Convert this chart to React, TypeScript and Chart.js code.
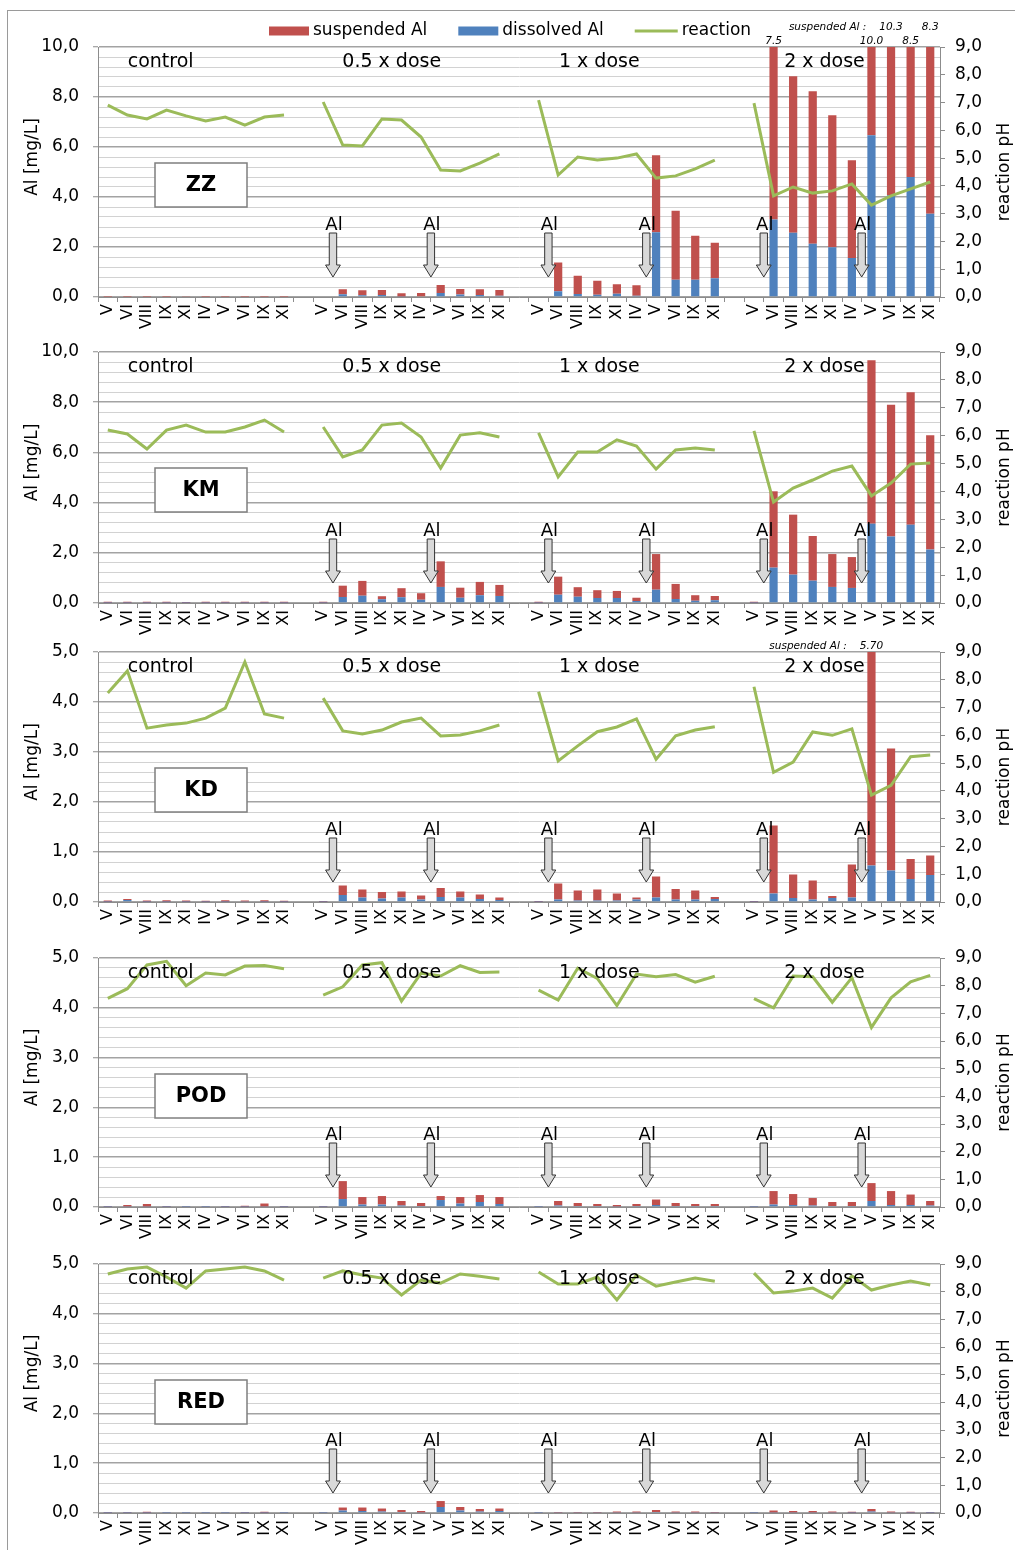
import React, { useEffect, useRef } from 'react';
import { Chart, registerables } from 'chart.js';

Chart.register(...registerables);

const FONT = "'DejaVu Sans', sans-serif";

const months = ['V', 'VI', 'VIII', 'IX', 'XI', 'IV', 'V', 'VI', 'IX', 'XI'];
const groupNames = ['control', '0.5 x dose', '1 x dose', '2 x dose'];

// ---------- ZZ ----------
const zzDissolved = [
  [0, 0, 0, 0, 0, 0, 0, 0, 0, 0],
  [0, 0.11, 0.07, 0.08, 0.02, 0.03, 0.16, 0.1, 0.08, 0.05],
  [0, 0.23, 0.12, 0.09, 0.13, 0.05, 2.59, 0.69, 0.69, 0.75],
  [0, 3.1, 2.57, 2.13, 1.99, 1.56, 6.47, 4.07, 4.8, 3.33],
];
const zzSuspended = [
  [0.01, 0.01, 0.01, 0.01, 0.02, 0.01, 0.01, 0.01, 0.01, 0.01],
  [0, 0.2, 0.2, 0.2, 0.13, 0.13, 0.32, 0.22, 0.23, 0.23],
  [0, 1.15, 0.73, 0.56, 0.38, 0.42, 3.08, 2.76, 1.76, 1.42],
  [0, 7.5, 6.26, 6.1, 5.28, 3.91, 10.0, 10.3, 8.5, 8.3],
];
const zzReaction = [
  [6.91, 6.55, 6.41, 6.73, 6.52, 6.34, 6.48, 6.19, 6.48, 6.55],
  [7.02, 5.47, 5.44, 6.41, 6.37, 5.76, 4.57, 4.54, 4.82, 5.15],
  [7.09, 4.39, 5.04, 4.93, 5.0, 5.15, 4.28, 4.36, 4.61, 4.93],
  [6.98, 3.64, 3.96, 3.74, 3.82, 4.07, 3.31, 3.64, 3.89, 4.14],
];

// ---------- KM ----------
const kmDissolved = [
  [0.01, 0.01, 0.01, 0.01, 0.01, 0.01, 0.01, 0.01, 0.01, 0.01],
  [0.01, 0.24, 0.29, 0.15, 0.23, 0.13, 0.64, 0.21, 0.31, 0.28],
  [0.01, 0.33, 0.25, 0.2, 0.2, 0.08, 0.53, 0.16, 0.09, 0.11],
  [0.01, 1.41, 1.13, 0.89, 0.64, 0.6, 3.16, 2.65, 3.12, 2.13],
];
const kmSuspended = [
  [0.04, 0.04, 0.04, 0.04, 0.03, 0.04, 0.04, 0.04, 0.04, 0.04],
  [0.04, 0.45, 0.59, 0.12, 0.36, 0.26, 1.02, 0.4, 0.53, 0.44],
  [0.04, 0.72, 0.38, 0.31, 0.28, 0.13, 1.42, 0.6, 0.22, 0.17],
  [0.04, 3.04, 2.39, 1.78, 1.31, 1.23, 6.51, 5.25, 5.28, 4.55],
];
const kmReaction = [
  [6.2, 6.06, 5.52, 6.2, 6.38, 6.13, 6.13, 6.31, 6.56, 6.13],
  [6.31, 5.24, 5.49, 6.38, 6.45, 5.95, 4.84, 6.02, 6.1, 5.95],
  [6.1, 4.52, 5.41, 5.41, 5.85, 5.63, 4.8, 5.49, 5.56, 5.49],
  [6.17, 3.62, 4.12, 4.41, 4.73, 4.91, 3.84, 4.3, 4.98, 5.02],
];

// ---------- KD ----------
const kdDissolved = [
  [0.005, 0.04, 0.005, 0.005, 0.005, 0.005, 0.005, 0.01, 0.005, 0.005],
  [0.005, 0.14, 0.09, 0.07, 0.09, 0.05, 0.1, 0.09, 0.06, 0.04],
  [0.005, 0.05, 0.03, 0.03, 0.03, 0.05, 0.09, 0.05, 0.05, 0.06],
  [0.005, 0.17, 0.08, 0.05, 0.08, 0.09, 0.73, 0.63, 0.46, 0.54],
];
const kdSuspended = [
  [0.025, 0.02, 0.025, 0.03, 0.025, 0.02, 0.03, 0.02, 0.03, 0.02],
  [0.015, 0.19, 0.16, 0.13, 0.12, 0.08, 0.18, 0.12, 0.09, 0.05],
  [0.015, 0.32, 0.2, 0.22, 0.14, 0.04, 0.42, 0.21, 0.18, 0.04],
  [0.015, 1.36, 0.47, 0.38, 0.04, 0.66, 5.7, 2.44, 0.4, 0.39],
];
const kdReaction = [
  [7.52, 8.32, 6.26, 6.37, 6.44, 6.62, 6.98, 8.64, 6.77, 6.62],
  [7.34, 6.16, 6.05, 6.19, 6.48, 6.62, 5.98, 6.01, 6.16, 6.37],
  [7.57, 5.08, 5.62, 6.13, 6.3, 6.59, 5.14, 5.98, 6.19, 6.31],
  [7.75, 4.67, 5.04, 6.12, 6.0, 6.23, 3.85, 4.2, 5.23, 5.29],
];

// ---------- POD ----------
const podDissolved = [
  [0.005, 0.01, 0.01, 0.005, 0.005, 0.005, 0.005, 0.005, 0.01, 0.005],
  [0.005, 0.16, 0.05, 0.05, 0.03, 0.02, 0.14, 0.07, 0.1, 0.06],
  [0.005, 0.03, 0.02, 0.02, 0.01, 0.02, 0.04, 0.02, 0.02, 0.02],
  [0.005, 0.05, 0.04, 0.03, 0.02, 0.02, 0.12, 0.04, 0.04, 0.03],
];
const podSuspended = [
  [0.01, 0.03, 0.05, 0.01, 0.005, 0.005, 0.01, 0.02, 0.06, 0.01],
  [0.01, 0.36, 0.15, 0.17, 0.09, 0.06, 0.08, 0.13, 0.14, 0.14],
  [0.005, 0.09, 0.06, 0.04, 0.03, 0.04, 0.11, 0.06, 0.04, 0.04],
  [0.005, 0.27, 0.22, 0.15, 0.08, 0.08, 0.36, 0.28, 0.21, 0.09],
];
const podReaction = [
  [7.54, 7.89, 8.75, 8.88, 8.0, 8.46, 8.39, 8.71, 8.73, 8.61],
  [7.66, 7.96, 8.75, 8.83, 7.44, 8.45, 8.35, 8.72, 8.48, 8.49],
  [7.84, 7.48, 8.63, 8.26, 7.28, 8.42, 8.32, 8.4, 8.13, 8.34],
  [7.53, 7.2, 8.35, 8.32, 7.4, 8.29, 6.49, 7.56, 8.14, 8.37],
];

// ---------- RED ----------
const redDissolved = [
  [0.005, 0.005, 0.005, 0.005, 0.005, 0.005, 0.005, 0.005, 0.005, 0.005],
  [0.005, 0.05, 0.04, 0.03, 0.02, 0.01, 0.12, 0.05, 0.03, 0.04],
  [0.005, 0.01, 0.01, 0.01, 0.01, 0.01, 0.02, 0.01, 0.01, 0.01],
  [0.005, 0.01, 0.01, 0.01, 0.01, 0.005, 0.03, 0.01, 0.005, 0.005],
];
const redSuspended = [
  [0.01, 0.01, 0.02, 0.005, 0.005, 0.005, 0.005, 0.01, 0.02, 0.005],
  [0.005, 0.06, 0.07, 0.06, 0.04, 0.03, 0.12, 0.07, 0.05, 0.05],
  [0.005, 0.01, 0.01, 0.01, 0.02, 0.02, 0.04, 0.02, 0.02, 0.01],
  [0.005, 0.04, 0.03, 0.03, 0.02, 0.02, 0.05, 0.02, 0.02, 0.01],
];
const redReaction = [
  [8.64, 8.82, 8.89, 8.53, 8.13, 8.75, 8.82, 8.89, 8.75, 8.42],
  [8.49, 8.75, 8.6, 8.49, 7.88, 8.42, 8.31, 8.64, 8.56, 8.46],
  [8.71, 8.28, 8.28, 8.53, 7.7, 8.6, 8.2, 8.35, 8.49, 8.38],
  [8.67, 7.95, 8.02, 8.13, 7.77, 8.57, 8.06, 8.24, 8.38, 8.24],
];

const pHTicks = [0, 1, 2, 3, 4, 5, 6, 7, 8, 9];

const COLORS = {
  suspended: '#C0504D',
  dissolved: '#4F81BD',
  reaction: '#9BBB59',
  axis: '#8c8c8c',
  major: '#a3a3a3',
  minor: '#d2d2d2',
};

type Clip = { index: number; row: number };
type Panel = {
  name: string;
  plotTop: number;
  plotHeight: number;
  leftMax: number;
  leftMajor: number;
  leftMinor: number;
  dissolved: number[][];
  suspended: number[][];
  reaction: number[][];
  legend?: boolean;
  clipped?: Clip[];
  prefixRow?: number;
  decimals?: number;
};

const panels: Panel[] = [
  {
    name: 'ZZ', plotTop: 47, plotHeight: 250, leftMax: 10, leftMajor: 2, leftMinor: 0.4,
    dissolved: zzDissolved, suspended: zzSuspended, reaction: zzReaction, legend: true,
    clipped: [
      { index: 34, row: 0 }, { index: 39, row: 0 }, { index: 40, row: 1 }, { index: 41, row: 0 }, { index: 42, row: 1 },
    ],
    prefixRow: 1, decimals: 1,
  },
  {
    name: 'KM', plotTop: 352, plotHeight: 251, leftMax: 10, leftMajor: 2, leftMinor: 0.4,
    dissolved: kmDissolved, suspended: kmSuspended, reaction: kmReaction,
  },
  {
    name: 'KD', plotTop: 652, plotHeight: 250, leftMax: 5, leftMajor: 1, leftMinor: 0.2,
    dissolved: kdDissolved, suspended: kdSuspended, reaction: kdReaction,
    clipped: [{ index: 39, row: 0 }], prefixRow: 0, decimals: 2,
  },
  {
    name: 'POD', plotTop: 958, plotHeight: 249, leftMax: 5, leftMajor: 1, leftMinor: 0.2,
    dissolved: podDissolved, suspended: podSuspended, reaction: podReaction,
  },
  {
    name: 'RED', plotTop: 1264, plotHeight: 249, leftMax: 5, leftMajor: 1, leftMinor: 0.2,
    dissolved: redDissolved, suspended: redSuspended, reaction: redReaction,
  },
];

const PAD_TOP = 40;
const X_AXIS_H = 45;
const WIDTH = 1015;

const flat = (g: number[][]) => {
  const out: (number | null)[] = [];
  g.forEach((arr, i) => {
    if (i) out.push(null);
    out.push(...arr);
  });
  return out;
};

const labels: string[] = [];
groupNames.forEach((_, i) => {
  if (i) labels.push('');
  labels.push(...months);
});

const groupStart = (g: number) => g * 11;
const groupLabelOffset = [2.7, 3.5, 3.1, 3.6];
const arrowOffsets = [0.5, 5.5];

const fmt = (v: number) => Number(v).toFixed(1).replace('.', ',');

function drawArrow(ctx: CanvasRenderingContext2D, x: number, B: number) {
  const sTop = B - 64, hStart = B - 32, tip = B - 20, sw = 3.7, hw = 7.4;
  ctx.save();
  ctx.beginPath();
  ctx.moveTo(x - sw, sTop);
  ctx.lineTo(x + sw, sTop);
  ctx.lineTo(x + sw, hStart);
  ctx.lineTo(x + hw, hStart);
  ctx.lineTo(x, tip);
  ctx.lineTo(x - hw, hStart);
  ctx.lineTo(x - sw, hStart);
  ctx.closePath();
  ctx.fillStyle = '#d9d9d9';
  ctx.fill();
  ctx.lineWidth = 1;
  ctx.strokeStyle = '#333';
  ctx.stroke();
  ctx.fillStyle = '#000';
  ctx.font = `18px ${FONT}`;
  ctx.textAlign = 'center';
  ctx.textBaseline = 'middle';
  ctx.fillText('Al', x + 1, B - 72);
  ctx.restore();
}

function makePlugin(p: Panel) {
  return {
    id: 'annot',
    afterDatasetsDraw(chart: any) {
      const ctx: CanvasRenderingContext2D = chart.ctx;
      const { top, bottom, left } = chart.chartArea;
      const xs = chart.scales.x;
      ctx.save();
      // group labels
      ctx.fillStyle = '#000';
      ctx.font = `19px ${FONT}`;
      ctx.textAlign = 'center';
      ctx.textBaseline = 'middle';
      groupNames.forEach((g, i) => {
        ctx.fillText(g, xs.getPixelForValue(groupStart(i) + groupLabelOffset[i]), top + 15);
      });
      // arrows
      for (let g = 1; g < 4; g++) {
        arrowOffsets.forEach((o) => drawArrow(ctx, xs.getPixelForValue(groupStart(g) + o), bottom));
      }
      // name box
      ctx.fillStyle = '#fff';
      ctx.fillRect(left + 57, top + 116, 92, 44);
      ctx.strokeStyle = '#7f7f7f';
      ctx.lineWidth = 1.5;
      ctx.strokeRect(left + 57, top + 116, 92, 44);
      ctx.fillStyle = '#000';
      ctx.font = `bold 21px ${FONT}`;
      ctx.fillText(p.name, left + 57 + 46, top + 116 + 23);
      ctx.restore();
    },
    afterDraw(chart: any) {
      const ctx: CanvasRenderingContext2D = chart.ctx;
      const { top, bottom, left } = chart.chartArea;
      const xs = chart.scales.x;
      const mid = (top + bottom) / 2;
      ctx.save();
      ctx.fillStyle = '#000';
      ctx.font = `17px ${FONT}`;
      ctx.textAlign = 'center';
      ctx.textBaseline = 'middle';
      // axis titles
      ctx.save();
      ctx.translate(33, mid - 15);
      ctx.rotate(-Math.PI / 2);
      ctx.fillText('Al [mg/L]', 0, 0);
      ctx.restore();
      ctx.save();
      ctx.translate(1005, mid);
      ctx.rotate(-Math.PI / 2);
      ctx.fillText('reaction pH', 0, 0);
      ctx.restore();
      // legend
      if (p.legend) {
        const y = top - 16;
        let x = left + 171;
        ctx.textAlign = 'left';
        ctx.font = `17px ${FONT}`;
        const items = [
          { label: 'suspended Al', color: COLORS.suspended, line: false },
          { label: 'dissolved Al', color: COLORS.dissolved, line: false },
          { label: 'reaction', color: COLORS.reaction, line: true },
        ];
        items.forEach((it) => {
          if (it.line) {
            ctx.strokeStyle = it.color;
            ctx.lineWidth = 3;
            ctx.beginPath();
            ctx.moveTo(x, y);
            ctx.lineTo(x + 43, y);
            ctx.stroke();
            x += 47;
          } else {
            ctx.fillStyle = it.color;
            ctx.fillRect(x, y - 4.5, 40, 9);
            x += 44;
          }
          ctx.fillStyle = '#000';
          ctx.fillText(it.label, x, y);
          x += ctx.measureText(it.label).width + 31;
        });
      }
      // clipped bar values
      if (p.clipped) {
        const susp = flat(p.suspended);
        ctx.font = `italic 10.5px ${FONT}`;
        ctx.textAlign = 'center';
        ctx.fillStyle = '#000';
        let prefixDone = false;
        p.clipped.forEach((c) => {
          const x = xs.getPixelForValue(c.index);
          const y = c.row === 0 ? top - 6 : top - 20;
          const txt = Number(susp[c.index]).toFixed(p.decimals || 1);
          ctx.fillText(txt, x, y);
          if (!prefixDone && c.row === p.prefixRow) {
            const w = ctx.measureText(txt).width;
            ctx.textAlign = 'right';
            ctx.fillText('suspended Al :', x - w / 2 - 13, y);
            ctx.textAlign = 'center';
            prefixDone = true;
          }
        });
      }
      ctx.restore();
    },
  };
}

function PanelChart({ p }: { p: Panel }) {
  const ref = useRef<HTMLCanvasElement | null>(null);
  const height = PAD_TOP + p.plotHeight + X_AXIS_H;
  useEffect(() => {
    if (!ref.current) return;
    const isMajor = (v: number) => Math.abs(v / p.leftMajor - Math.round(v / p.leftMajor)) < 1e-6;
    const nMinor = Math.round(p.leftMax / p.leftMinor);
    const tickFont = { family: FONT, size: 17 };
    const chart = new Chart(ref.current, {
      type: 'bar',
      data: {
        labels,
        datasets: [
          {
            type: 'line',
            label: 'reaction',
            data: flat(p.reaction),
            yAxisID: 'y2',
            borderColor: COLORS.reaction,
            backgroundColor: COLORS.reaction,
            borderWidth: 3,
            pointRadius: 0,
            tension: 0,
            spanGaps: false,
          } as any,
          {
            type: 'bar',
            label: 'dissolved Al',
            data: flat(p.dissolved),
            yAxisID: 'y',
            backgroundColor: COLORS.dissolved,
            borderWidth: 0,
            barPercentage: 1,
            categoryPercentage: 0.42,
            clip: 0,
          } as any,
          {
            type: 'bar',
            label: 'suspended Al',
            data: flat(p.suspended),
            yAxisID: 'y',
            backgroundColor: COLORS.suspended,
            borderWidth: 0,
            barPercentage: 1,
            categoryPercentage: 0.42,
            clip: 0,
          } as any,
        ],
      },
      options: {
        responsive: false,
        animation: false,
        devicePixelRatio: 1,
        events: [],
        layout: { padding: { top: PAD_TOP, left: 18, right: 15, bottom: 0 } },
        plugins: { legend: { display: false }, tooltip: { enabled: false } },
        scales: {
          x: {
            stacked: true,
            offset: true,
            grid: { offset: true, drawOnChartArea: false, drawTicks: true, tickLength: 5, color: COLORS.axis },
            border: { display: true, color: COLORS.axis },
            ticks: {
              autoSkip: false,
              maxRotation: 90,
              minRotation: 90,
              padding: 2,
              color: '#000',
              font: { family: FONT, size: 16 },
            },
            afterFit: (s: any) => { s.height = X_AXIS_H; },
          },
          y: {
            position: 'left',
            stacked: true,
            min: 0,
            max: p.leftMax,
            afterBuildTicks: (s: any) => {
              const t = [];
              for (let i = 0; i <= nMinor; i++) t.push({ value: +(i * p.leftMinor).toFixed(6) });
              s.ticks = t;
            },
            ticks: {
              autoSkip: false,
              padding: 14,
              color: '#000',
              font: tickFont,
              callback: (v: any) => (isMajor(Number(v)) ? fmt(Number(v)) : ''),
            },
            grid: {
              color: (c: any) => (isMajor(c.tick.value) ? COLORS.major : COLORS.minor),
              lineWidth: (c: any) => (isMajor(c.tick.value) ? 1.5 : 1),
              tickLength: 5,
              tickColor: (c: any) => (isMajor(c.tick.value) ? COLORS.axis : 'rgba(0,0,0,0)'),
              tickWidth: 1,
            },
            border: { display: true, color: COLORS.axis },
            afterFit: (s: any) => { s.width = 80; },
          },
          y2: {
            position: 'right',
            min: 0,
            max: 9,
            afterBuildTicks: (s: any) => { s.ticks = pHTicks.map((v) => ({ value: v })); },
            ticks: { autoSkip: false, padding: 10, color: '#000', font: tickFont, callback: (v: any) => fmt(Number(v)) },
            grid: { drawOnChartArea: false, tickLength: 5, color: COLORS.axis },
            border: { display: true, color: COLORS.axis },
            afterFit: (s: any) => { s.width = 60; },
          },
        },
      } as any,
      plugins: [makePlugin(p) as any],
    });
    return () => chart.destroy();
  }, [p]);
  return (
    <canvas
      ref={ref}
      width={WIDTH}
      height={height}
      style={{ position: 'absolute', left: 0, top: p.plotTop - PAD_TOP, width: WIDTH, height }}
    />
  );
}

export default function App() {
  return (
    <div style={{ position: 'absolute', left: 0, top: 0, width: WIDTH, height: 1550, background: '#fff', overflow: 'hidden' }}>
      <div
        style={{
          position: 'absolute', left: 7, top: 10, width: 1015, height: 1545,
          borderTop: '1px solid #9a9a9a', borderLeft: '1px solid #9a9a9a',
        }}
      />
      {panels.map((p) => (
        <PanelChart key={p.name} p={p} />
      ))}
    </div>
  );
}
